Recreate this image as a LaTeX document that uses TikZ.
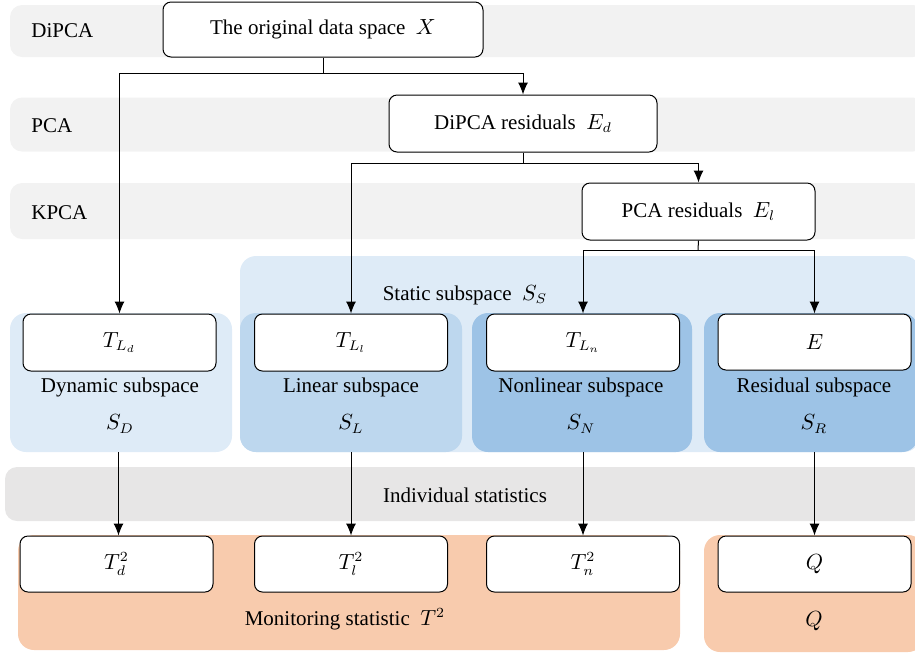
\documentclass[tikz,border=0pt]{standalone}
\usepackage{fontspec}
\setmainfont{Liberation Serif}
\usepackage{tikz}
\usetikzlibrary{calc}
\usetikzlibrary{positioning}
\usetikzlibrary{arrows.meta}
\definecolor{bandColor}{HTML}{F2F2F2}
\definecolor{statBandColor}{HTML}{E7E6E6}
\definecolor{staticColor}{HTML}{DEEBF7}
\definecolor{linearColor}{HTML}{BDD7EE}
\definecolor{nonlinColor}{HTML}{9DC3E6}
\definecolor{monitorColor}{HTML}{F8CBAD}

\begin{document}
\begin{tikzpicture}[
		x=0.5pt, y=-0.5pt,
		font=\fontsize{10.5}{12.6}\selectfont,
		arrow/.style={-{Latex[length=6pt, width=5pt]}, draw=black, line width=0.5pt},
		link/.style={draw=black, line width=0.5pt},
		stage band/.style={rectangle, rounded corners=6pt, fill=bandColor, minimum height=27pt, inner sep=0pt},
		region/.style={rectangle, rounded corners=8pt, inner sep=0pt},
		box/.style={rectangle, rounded corners=4pt, draw=black, line width=0.5pt, fill=white, minimum height=28.5pt, inner sep=0pt},
		small box/.style={box, minimum width=96.5pt},
		band text/.style={anchor=west, inner sep=0pt},
	]
	\useasboundingbox (0, 0) rectangle (915, 655);
	% Stage bands
	\node[stage band, minimum width=457.5pt, minimum height=26pt] (band dipca) at (467.5, 31) {};
	\node[stage band, minimum width=457.5pt] (band pca) at (467.5, 124.5) {};
	\node[stage band, minimum width=457.5pt, minimum height=28pt] (band kpca) at (467.5, 211) {};
	\node[stage band, fill=statBandColor, minimum width=460pt] (band stats) at (465, 494) {};
	\node[band text] (label dipca) at (31, 31) {DiPCA};
	\node[band text] (label pca) at (31, 126) {PCA};
	\node[band text] (label kpca) at (31, 213) {KPCA};
	\node (label stats) at (465, 495) {Individual statistics};
	% Subspace regions
	\node[region, fill=staticColor, minimum width=340pt, minimum height=98pt] (static) at (580, 354) {};
	\node[region, fill=staticColor, minimum width=111pt, minimum height=69.5pt] (dynamic) at (121, 382.5) {};
	\node[region, fill=linearColor, minimum width=111pt, minimum height=69.5pt] (linear) at (351, 382.5) {};
	\node[region, fill=nonlinColor, minimum width=110pt, minimum height=69.5pt] (nonlinear) at (582, 382.5) {};
	\node[region, fill=nonlinColor, minimum width=107pt, minimum height=69.5pt] (residual) at (811, 382.5) {};
	\node (static label) at (465, 295) {Static subspace~~$S_S$};
	% Monitoring regions
	\node[region, fill=monitorColor, minimum width=331pt, minimum height=57.5pt] (monitor t2) at (349, 592.5) {};
	\node[region, fill=monitorColor, minimum width=110pt, minimum height=58.5pt] (monitor q) at (814, 593.5) {};
	\node (monitor t2 label) at (345, 619) {Monitoring statistic~~$T^2$};
	\node (monitor q label) at (814, 621) {$Q$};
	% Data boxes
	\node[box, minimum width=160pt, minimum height=27.5pt] (X) at (323, 29.5) {The original data space~~$X$};
	\node[box, minimum width=134pt] (Ed) at (523, 123.5) {DiPCA residuals~~$E_d$};
	\node[box, minimum width=116.5pt] (El) at (698.5, 211.5) {PCA residuals~~$E_l$};
	% Subspace boxes
	\node[small box] (TLd) at (119.5, 342.5) {$T_{L_d}$};
	\node[small box] (TLl) at (351, 342.5) {$T_{L_l}$};
	\node[small box] (TLn) at (583, 342.5) {$T_{L_n}$};
	\node[small box, minimum height=28pt] (E) at (814.5, 342) {$E$};
	\node (dynamic name) at (120, 387) {Dynamic subspace};
	\node (dynamic sym) at (120, 424) {$S_D$};
	\node (linear name) at (351, 387) {Linear subspace};
	\node (linear sym) at (351, 424) {$S_L$};
	\node (nonlinear name) at (581, 387) {Nonlinear subspace};
	\node (nonlinear sym) at (581, 424) {$S_N$};
	\node (residual name) at (814, 387) {Residual subspace};
	\node (residual sym) at (814, 424) {$S_R$};
	% Statistic boxes
	\node[small box, minimum height=28pt] (Td2) at (116.5, 564) {$T^{2}_{d}$};
	\node[small box, minimum height=28pt] (Tl2) at (351, 564) {$T^{2}_{l}$};
	\node[small box, minimum height=28pt] (Tn2) at (583, 564) {$T^{2}_{n}$};
	\node[small box, minimum height=28pt] (Q) at (814.5, 564) {$Q$};
	% Split points
	\coordinate (split X) at (323, 73);
	\coordinate (split Ed) at (523, 163);
	\coordinate (split El) at (698, 250);
	% Decomposition arrows
	\draw[link] (X.south) -- (split X);
	\draw[arrow] (split X) -| (TLd.north);
	\draw[arrow] (split X) -| (Ed.north);
	\draw[link] (Ed.south) -- (split Ed);
	\draw[arrow] (split Ed) -| (TLl.north);
	\draw[arrow] (split Ed) -| (El.north);
	\draw[link] (El.south) -- (split El);
	\draw[arrow] (split El) -| (TLn.north);
	\draw[arrow] (split El) -| (E.north);
	% Statistic arrows
	\draw[arrow] (dynamic.south -| Td2.north) ++(2, 0) -- ($(Td2.north) + (2, 0)$);
	\draw[arrow] (linear.south -| Tl2.north) -- (Tl2.north);
	\draw[arrow] (nonlinear.south -| Tn2.north) -- (Tn2.north);
	\draw[arrow] (residual.south -| Q.north) -- (Q.north);
\end{tikzpicture}
\end{document}
